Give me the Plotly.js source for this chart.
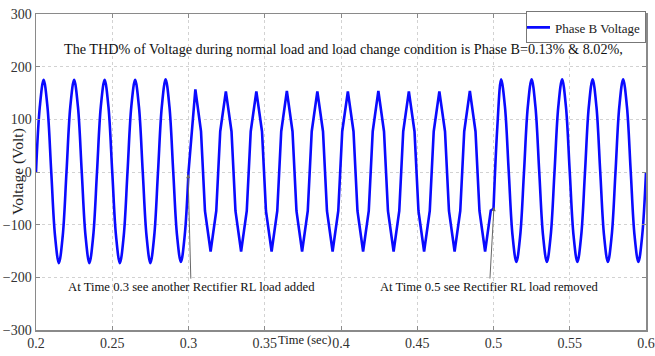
<!DOCTYPE html>
<html>
<head>
<meta charset="utf-8">
<script src="https://cdn.plot.ly/plotly-3.0.1.min.js"></script>
<style>html,body{margin:0;padding:0;background:#fff;}#chart{width:655px;height:356px;}</style>
</head>
<body>
<div id="chart"></div>
<script>
var tNormal1 = [0.2000,0.2025,0.2050,0.2075,0.2100,0.2125,0.2150,0.2175,
                0.2200,0.2225,0.2250,0.2275,0.2300,0.2325,0.2350,0.2375,
                0.2400,0.2425,0.2450,0.2475,0.2500,0.2525,0.2550,0.2575,
                0.2600,0.2625,0.2650,0.2675,0.2700,0.2725,0.2750,0.2775,
                0.2800,0.2825,0.2850,0.2875,0.2900,0.2925,0.2950,0.2975,0.3000];
var vNormal1 = [0,124,175,124,0,-122,-173,-122,
                0,124,175,124,0,-122,-173,-122,
                0,124,175,124,0,-122,-173,-122,
                0,124,175,124,0,-122,-173,-122,
                0,124,176,124,0,-121,-171,-121,0];

// Distorted section while the extra rectifier RL load is connected (0.3 s - 0.5 s)
var tLoad = [0.3000,
  0.3045,0.3082,0.3108,0.3145,0.3182,0.3208,
  0.3245,0.3282,0.3308,0.3345,0.3382,0.3408,
  0.3445,0.3482,0.3508,0.3545,0.3582,0.3608,
  0.3645,0.3682,0.3708,0.3745,0.3782,0.3808,
  0.3845,0.3882,0.3908,0.3945,0.3982,0.4008,
  0.4045,0.4082,0.4108,0.4145,0.4182,0.4208,
  0.4245,0.4282,0.4308,0.4345,0.4382,0.4408,
  0.4445,0.4482,0.4508,0.4545,0.4582,0.4608,
  0.4645,0.4682,0.4708,0.4745,0.4782,0.4808,
  0.4845,0.4882,0.4908,0.4945,0.4982,0.5000];
var vLoad = [0,
  157,77,-74,-151,-74,77,
  153,77,-74,-151,-74,77,
  153,77,-74,-151,-74,77,
  154,77,-74,-151,-74,77,
  153,77,-74,-151,-74,77,
  153,77,-74,-151,-74,77,
  154,77,-74,-151,-74,77,
  153,77,-74,-151,-74,77,
  153,77,-74,-151,-74,77,
  154,77,-74,-151,-73,-70];

var tNormal2 = [0.5000,0.5025,0.5050,0.5075,0.5100,0.5125,0.5150,0.5175,
                0.5200,0.5225,0.5250,0.5275,0.5300,0.5325,0.5350,0.5375,
                0.5400,0.5425,0.5450,0.5475,0.5500,0.5525,0.5550,0.5575,
                0.5600,0.5625,0.5650,0.5675,0.5700,0.5725,0.5750,0.5775,
                0.5800,0.5825,0.5850,0.5875,0.5900,0.5925,0.5950,0.5975,0.6000];
var vNormal2 = [-70,85,176,124,0,-121,-171,-121,
                0,124,176,124,0,-121,-171,-121,
                0,124,176,124,0,-121,-171,-121,
                0,124,176,124,0,-121,-171,-121,
                0,124,176,124,0,-121,-171,-121,0];

var xTicks = [0.2,0.25,0.3,0.35,0.4,0.45,0.5,0.55,0.6];
var xTickText = ['0.2','0.25','0.3','0.35','0.4','0.45','0.5','0.55','0.6'];
var yTicks = [-300,-200,-100,0,100,200,300];

var serif = "'Liberation Serif', 'Times New Roman', serif";
var blue = '#0a0aff';

var traces = [
  {x: tNormal1.concat([null]).concat(tNormal2),
   y: vNormal1.concat([null]).concat(vNormal2),
   type: 'scatter', mode: 'lines', name: 'Phase B Voltage',
   legendgroup: 'b', connectgaps: false,
   line: {color: blue, width: 2.6, shape: 'spline', smoothing: 1}},
  {x: tLoad, y: vLoad, type: 'scatter', mode: 'lines', name: 'Phase B Voltage',
   legendgroup: 'b', showlegend: false,
   line: {color: blue, width: 2.6, shape: 'linear'}}
];

var axisCommon = {
  showline: true, linecolor: '#8a8a8a', linewidth: 1.5, mirror: 'ticks',
  ticks: 'inside', ticklen: 4, tickcolor: '#8a8a8a',
  showgrid: true, gridcolor: '#d2d2d2', griddash: 'dot', gridwidth: 1,
  zeroline: false,
  tickfont: {family: serif, size: 14, color: '#333'}
};

var layout = {
  width: 655, height: 356,
  margin: {l: 36, r: 9, t: 14, b: 26},
  paper_bgcolor: '#fff', plot_bgcolor: '#fff',
  showlegend: true,
  legend: {x: 1, xanchor: 'right', y: 1.008, yanchor: 'top',
           bgcolor: '#fff', bordercolor: '#777', borderwidth: 1,
           itemwidth: 30, indentation: -12,
           font: {family: serif, size: 13, color: '#222'},
           tracegroupgap: 0},
  xaxis: Object.assign({}, axisCommon, {range: [0.2, 0.6], tickvals: xTicks, ticktext: xTickText}),
  yaxis: Object.assign({}, axisCommon, {range: [-300, 300], tickvals: yTicks}),
  annotations: [
    {xref: 'paper', yref: 'paper', x: 0.0426, y: 0.889, xanchor: 'left', yanchor: 'middle',
     showarrow: false, text: 'The THD% of Voltage during normal load and load change condition is Phase B=0.13% &amp; 8.02%,',
     font: {family: serif, size: 14.2, color: '#111'}},
    {xref: 'paper', yref: 'paper', x: -0.0295, y: 0.5, xanchor: 'center', yanchor: 'middle',
     textangle: -90, showarrow: false, text: 'Voltage (Volt)',
     font: {family: serif, size: 15.5, color: '#222'}},
    {xref: 'paper', yref: 'paper', x: 0.44, y: 0, xanchor: 'center', yanchor: 'top', yshift: -1,
     showarrow: false, text: 'Time (sec)',
     font: {family: serif, size: 12.5, color: '#222'}},
    {xref: 'x', yref: 'y', x: 0.2997, y: -4, ax: 3, ay: 113,
     showarrow: true, arrowhead: 2, arrowsize: 0.8, arrowwidth: 1, arrowcolor: '#666',
     text: 'At Time 0.3 see another Rectifier RL load added',
     font: {family: serif, size: 12.7, color: '#111'}},
    {xref: 'x', yref: 'y', x: 0.5003, y: -66.5, ax: -4.5, ay: 80,
     showarrow: true, arrowhead: 2, arrowsize: 0.8, arrowwidth: 1, arrowcolor: '#666',
     text: 'At Time 0.5 see Rectifier RL load removed',
     font: {family: serif, size: 12.6, color: '#111'}}
  ]
};

Plotly.newPlot('chart', traces, layout, {staticPlot: true, displayModeBar: false});
</script>
</body>
</html>
